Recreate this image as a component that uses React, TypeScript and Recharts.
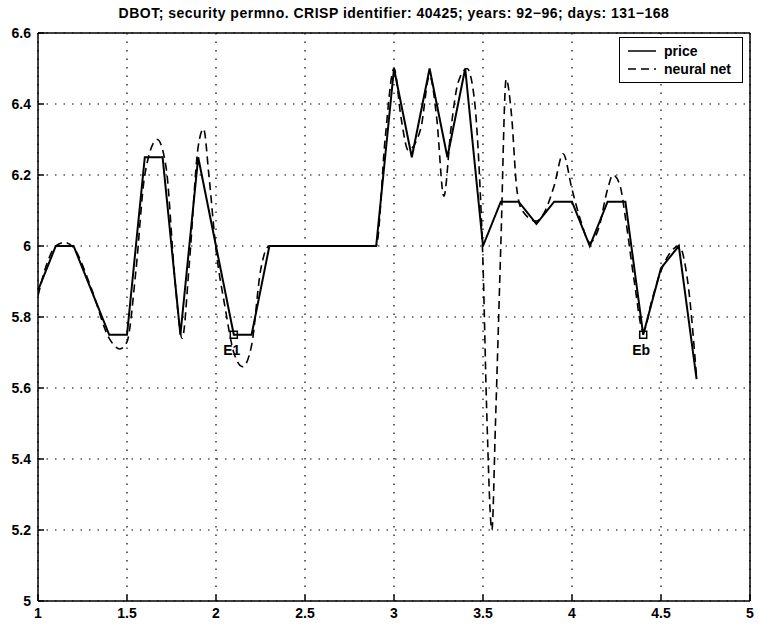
import { CartesianGrid, ComposedChart, Legend, Line, Scatter, XAxis, YAxis } from "recharts";

const title = "DBOT; security permno. CRISP identifier: 40425; years: 92−96; days: 131−168";

const xTicks = [1, 1.5, 2, 2.5, 3, 3.5, 4, 4.5, 5];
const yTicks = [5, 5.2, 5.4, 5.6, 5.8, 6, 6.2, 6.4, 6.6];

// daily closing price (in eighths)
const priceX = [
  1.0, 1.1, 1.2, 1.3, 1.4, 1.5, 1.6, 1.7, 1.8, 1.9, 2.0, 2.1, 2.2, 2.3, 2.4, 2.5, 2.6, 2.7, 2.8,
  2.9, 3.0, 3.1, 3.2, 3.3, 3.4, 3.5, 3.6, 3.7, 3.8, 3.9, 4.0, 4.1, 4.2, 4.3, 4.4, 4.5, 4.6, 4.7,
];
const priceY = [
  5.875, 6, 6, 5.875, 5.75, 5.75, 6.25, 6.25, 5.75, 6.25, 6, 5.75, 5.75, 6, 6, 6, 6, 6, 6,
  6, 6.5, 6.25, 6.5, 6.25, 6.5, 6, 6.125, 6.125, 6.0625, 6.125, 6.125, 6, 6.125, 6.125, 5.75, 5.9375, 6, 5.625,
];

// network output, sampled more finely than the price
const netX = [
  1.0, 1.05, 1.1, 1.15, 1.2, 1.3, 1.4, 1.46, 1.5, 1.55,
  1.6, 1.67, 1.72, 1.77, 1.81, 1.85, 1.9, 1.93, 1.96, 2.0,
  2.05, 2.1, 2.15, 2.2, 2.25, 2.3, 2.9, 2.95, 3.0, 3.04,
  3.08, 3.15, 3.2, 3.24, 3.28, 3.32, 3.36, 3.41, 3.45, 3.48,
  3.5, 3.52, 3.55, 3.57, 3.6, 3.63, 3.66, 3.69, 3.72, 3.8,
  3.85, 3.9, 3.95, 4.0, 4.05, 4.1, 4.15, 4.2, 4.23, 4.27,
  4.3, 4.35, 4.4, 4.45, 4.5, 4.55, 4.6, 4.65, 4.7,
];
const netY = [
  5.86, 5.95, 6.0, 6.01, 5.995, 5.88, 5.74, 5.71, 5.73, 5.93,
  6.2, 6.3, 6.22, 5.9, 5.74, 5.95, 6.28, 6.33, 6.2, 5.99,
  5.83, 5.7, 5.66, 5.72, 5.93, 6.0, 6.0, 6.3, 6.5, 6.36,
  6.27, 6.33, 6.48, 6.36, 6.14, 6.33, 6.46, 6.5, 6.42, 6.2,
  5.95, 5.55, 5.2, 5.5, 6.0, 6.47, 6.37, 6.16, 6.1, 6.07,
  6.1, 6.17, 6.26, 6.16, 6.07, 6.01, 6.05, 6.16, 6.2, 6.17,
  6.08, 5.9, 5.76, 5.85, 5.93, 5.98, 6.0, 5.9, 5.63,
];

// marked events on the price curve
const eventNames = ["E1", "Eb"];
const eventX = [2.1, 4.4];
const eventY = [5.75, 5.75];

const seriesOrder = ["price", "neural net"];

const priceData = priceX.map((x, i) => ({ x, price: priceY[i] }));
const netData = netX.map((x, i) => ({ x, net: netY[i] }));
const eventData = eventX.map((x, i) => ({ x, y: eventY[i], name: eventNames[i] }));

const FONT = "'Liberation Sans', Arial, Helvetica, sans-serif";
const tickStyle = { fill: "#000", fontSize: 14, fontWeight: 700, fontFamily: FONT };
const DASH = "8 5";
const axisStroke = { stroke: "#000", strokeWidth: 1.5 };

function EventMark(props: any) {
  const { cx, cy, payload } = props;
  return (
    <g>
      <rect x={cx - 3.5} y={cy - 3.5} width={7} height={7} fill="none" stroke="#000" strokeWidth={1.5} />
      <text x={cx - 2} y={cy + 20} textAnchor="middle" fontSize={14} fontWeight={700} fontFamily={FONT} fill="#000">
        {payload.name}
      </text>
    </g>
  );
}

function BoxLegend(props: any) {
  const items = (props.payload ?? [])
    .filter((p: any) => p.type !== "none")
    .sort((a: any, b: any) => seriesOrder.indexOf(a.value) - seriesOrder.indexOf(b.value));
  return (
    <div style={{ border: "1.5px solid #000", background: "#fff", width: 124, padding: "4px 0", boxSizing: "border-box" }}>
      {items.map((p: any) => (
        <div key={p.value} style={{ display: "flex", alignItems: "center", height: 18 }}>
          <svg width={44} height={10}>
            <line x1={8} y1={5} x2={36} y2={5} stroke="#000" strokeWidth={1.5} strokeDasharray={p.dataKey === "net" ? DASH : undefined} />
          </svg>
          <span style={{ fontFamily: FONT, fontSize: 14, fontWeight: 700, color: "#000" }}>{p.value}</span>
        </div>
      ))}
    </div>
  );
}

export default function App() {
  return (
    <div style={{ position: "absolute", left: 0, top: 0, background: "#fff" }}>
      <ComposedChart width={758} height={625} margin={{ top: 32, right: 7, bottom: 0, left: 0 }}>
        <text
          x={394}
          y={18}
          textAnchor="middle"
          fontSize={14}
          fontWeight={700}
          letterSpacing={0.5}
          fontFamily={FONT}
          fill="#000"
        >
          {title}
        </text>
        <CartesianGrid stroke="#000" strokeWidth={1.2} strokeDasharray="1.5 7" />
        <XAxis
          type="number"
          dataKey="x"
          domain={[1, 5]}
          ticks={xTicks}
          allowDataOverflow
          height={24}
          tickSize={-6}
          tickMargin={13}
          tick={tickStyle}
          axisLine={axisStroke}
          tickLine={axisStroke}
        />
        <XAxis
          xAxisId="top"
          orientation="top"
          type="number"
          dataKey="x"
          domain={[1, 5]}
          ticks={xTicks}
          allowDataOverflow
          height={1}
          tickSize={-6}
          tick={false}
          axisLine={axisStroke}
          tickLine={axisStroke}
        />
        <YAxis
          type="number"
          domain={[5, 6.6]}
          ticks={yTicks}
          allowDataOverflow
          width={38}
          tickSize={-6}
          tickMargin={13}
          tick={tickStyle}
          axisLine={axisStroke}
          tickLine={axisStroke}
        />
        <YAxis
          yAxisId="right"
          orientation="right"
          type="number"
          domain={[5, 6.6]}
          ticks={yTicks}
          allowDataOverflow
          width={1}
          tickSize={-6}
          tick={false}
          axisLine={axisStroke}
          tickLine={axisStroke}
        />
        <Legend
          layout="horizontal"
          verticalAlign="middle"
          align="center"
          content={<BoxLegend />}
          wrapperStyle={{ position: "absolute", left: 619, top: 37, width: 124 }}
        />
        <Line
          data={priceData}
          dataKey="price"
          name="price"
          type="linear"
          stroke="#000"
          strokeWidth={2}
          dot={false}
          isAnimationActive={false}
        />
        <Line
          data={netData}
          dataKey="net"
          name="neural net"
          type="monotone"
          stroke="#000"
          strokeWidth={1.6}
          strokeDasharray={DASH}
          dot={false}
          isAnimationActive={false}
        />
        <Scatter data={eventData} dataKey="y" legendType="none" shape={<EventMark />} isAnimationActive={false} />
      </ComposedChart>
    </div>
  );
}
